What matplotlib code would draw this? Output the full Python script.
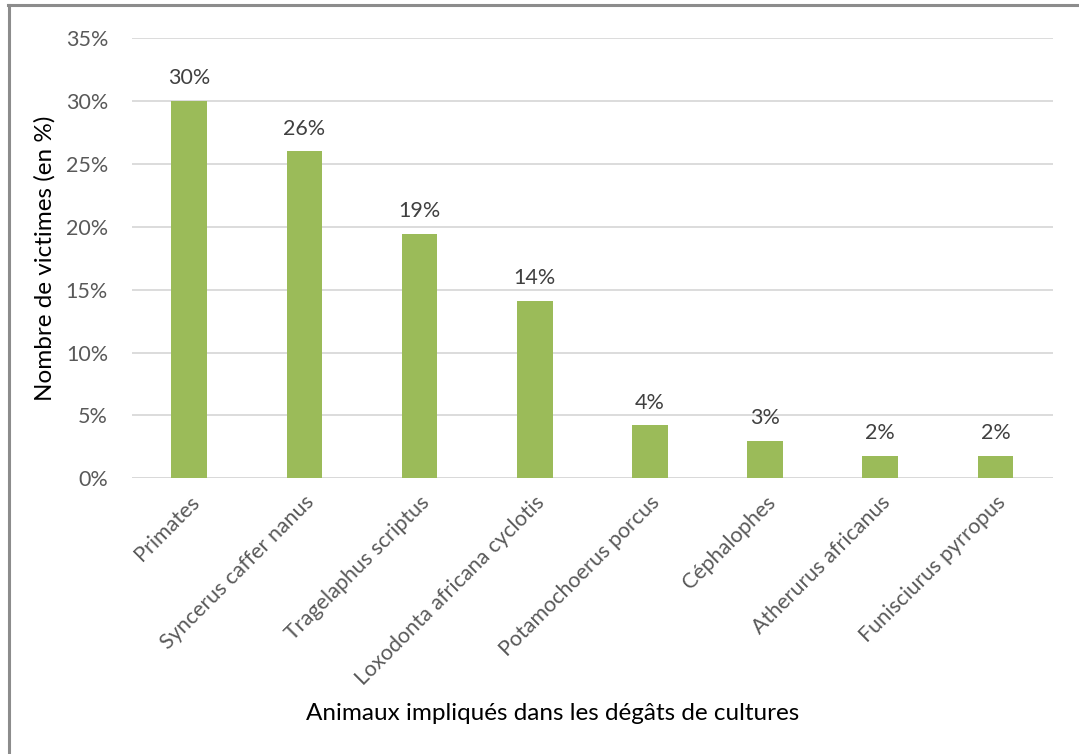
#!/usr/bin/env python3
"""
Diagramme en barres : animaux impliqués dans les dégâts de cultures.
Produit : out.png
"""

import matplotlib.pyplot as plt
from matplotlib.lines import Line2D

# --- Données ---
animaux = [
    "Primates",
    "Syncerus caffer nanus",
    "Tragelaphus scriptus",
    "Loxodonta africana cyclotis",
    "Potamochoerus porcus",
    "Céphalophes",
    "Atherurus africanus",
    "Funisciurus pyrropus",
]
victimes_pct = [30.0, 26.0, 19.4, 14.1, 4.2, 3.0, 1.75, 1.75]
yticks = [0, 5, 10, 15, 20, 25, 30, 35]

BAR_COLOR = "#9BBB59"
GRID_COLOR = "#D9D9D9"
TICK_COLOR = "#595959"
LABEL_COLOR = "#404040"


def main():
    plt.rcParams["font.family"] = ["Lato", "DejaVu Sans"]

    fig = plt.figure(figsize=(10.79, 7.54), dpi=100)
    fig.patch.set_facecolor("white")
    ax = fig.add_axes([0.122, 0.3657, 0.854, 0.5835])

    x = range(len(animaux))
    bars = ax.bar(x, victimes_pct, width=0.31, color=BAR_COLOR, zorder=2)

    # étiquettes de valeurs au-dessus des barres
    for rect, val in zip(bars, victimes_pct):
        ax.annotate(f"{val:.0f}%",
                    (rect.get_x() + rect.get_width() / 2, rect.get_height()),
                    xytext=(0, 16.5), textcoords="offset points",
                    ha="center", va="center", fontsize=15.5, color=LABEL_COLOR)

    ax.set_xlim(-0.5, len(animaux) - 0.5)
    ax.set_ylim(0, 35)
    ax.set_yticks(yticks)
    ax.set_yticklabels([f"{t}%" for t in yticks])
    ax.yaxis.grid(True, color=GRID_COLOR, linewidth=1.3, zorder=0)
    ax.set_axisbelow(True)

    for side in ("top", "right", "left", "bottom"):
        ax.spines[side].set_visible(False)
    ax.axhline(0, color=GRID_COLOR, linewidth=1.3, zorder=1)

    ax.tick_params(axis="y", length=0, pad=17, labelsize=15.5,
                   labelcolor=TICK_COLOR)
    ax.tick_params(axis="x", length=0, pad=10, labelsize=15.5,
                   labelcolor=TICK_COLOR)
    ax.set_xticks(list(x))
    ax.set_xticklabels(animaux, rotation=45, ha="right",
                       rotation_mode="anchor")

    ax.set_ylabel("Nombre de victimes (en %)", fontsize=17.5, color="black")
    ax.yaxis.set_label_coords(-0.083, 0.5)
    fig.text(553 / 1079, 1 - 713 / 754,
             "Animaux impliqués dans les dégâts de cultures",
             ha="center", va="center", fontsize=17.5, color="black")

    # cadre gris (haut et gauche)
    fig.add_artist(Line2D([8 / 1079, 1], [1 - 5 / 754, 1 - 5 / 754],
                          transform=fig.transFigure, color="#8C8C8C",
                          linewidth=2.2))
    fig.add_artist(Line2D([9 / 1079, 9 / 1079], [0, 1 - 5 / 754],
                          transform=fig.transFigure, color="#8C8C8C",
                          linewidth=2.2))

    fig.savefig("out.png", dpi=100, facecolor="white")
    plt.close(fig)


if __name__ == "__main__":
    main()
